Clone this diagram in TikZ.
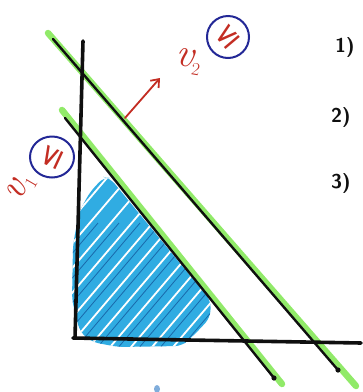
\documentclass[tikz,border=0pt]{standalone}
\usetikzlibrary{arrows.meta,shapes.geometric}
\usepackage{fontspec}
\newfontfamily\symfont{DejaVu Sans}
\definecolor{hlgreen}{RGB}{145,234,105}
\definecolor{pen}{RGB}{15,15,15}
\definecolor{redpen}{RGB}{195,45,35}
\definecolor{bluepen}{RGB}{35,40,150}
\definecolor{hatchblue}{RGB}{48,172,226}
\definecolor{hatchdark}{RGB}{25,105,170}
\tikzset{
  axis/.style={pen, line width=3.6pt, line cap=round},
  highlight/.style={hlgreen, line width=6.5pt, line cap=round},
  penline/.style={pen, line width=2.4pt, line cap=round},
  arrowpen/.style={redpen, line width=1.8pt, line cap=round, -{Straight Barb[length=7pt,width=11pt,line width=1.8pt]}},
  ring/.style={bluepen, line width=2pt},
  redlabel/.style={redpen, inner sep=0pt, font=\itshape\fontsize{40}{40}\selectfont},
  lesign/.style={redpen, inner sep=0pt, font=\symfont\fontsize{30}{30}\selectfont},
  numlabel/.style={pen, inner sep=0pt, font=\sffamily\bfseries\fontsize{20}{20}\selectfont}
}
\newcommand{\subnum}[1]{\raisebox{-7pt}{\upshape\fontsize{18}{18}\selectfont #1}}
\begin{document}
\begin{tikzpicture}[x=1pt,y=-1pt]
\useasboundingbox (0,0) rectangle (363,392);
% named points
\coordinate (vt) at (83,41);
\coordinate (vb) at (75,338);
\coordinate (hl) at (73,338);
\coordinate (hr) at (361,343);
\coordinate (g2a) at (48,33);
\coordinate (g2b) at (356,386);
\coordinate (b2a) at (53,39);
\coordinate (b2b) at (338,370);
\coordinate (g1a) at (62,110);
\coordinate (g1b) at (282,384);
\coordinate (b1a) at (65,118);
\coordinate (b1b) at (274,378);
\coordinate (ra) at (125,118);
\coordinate (rb) at (160,78);
% shaded region
\begin{scope}
\clip[rounded corners=7pt] (79,212) -- (90,192) -- (104,177) -- (110,178) -- (211,301) -- (210,318) -- (196,333) -- (182,346) -- (118,347) -- (92,342) -- (80,332) -- (72,300) -- (73,245) -- cycle;
\fill[hatchblue] (0,0) rectangle (363,392);
\foreach \k in {-8,...,8} {
  \draw[white, line width=1.8pt] ({40+21*\k},380) -- ++(200,-235);
  \draw[hatchdark, line width=0.8pt] ({52+21*\k},376) -- ++(130,-153);
}
\end{scope}
\fill[hatchblue!60!bluepen!60] (157,389) ellipse (3pt and 4pt);
% green highlighted lines
\draw[highlight] (g2a) -- (g2b);
\draw[highlight] (g1a) -- (g1b);
\draw[penline] (b2a) -- (b2b);
\draw[penline] (b1a) -- (b1b);
\fill[pen] (b2b) circle (2.6pt);
\fill[pen] (b1b) circle (2.6pt);
% axes
\draw[axis] (vt) -- (vb);
\draw[axis] (hl) -- (hr);
% red arrow
\draw[arrowpen] (ra) -- (rb);
% labels
\node[redlabel, rotate=-10] (v2) at (188,62) {v\subnum{2}};
\node[ring, draw, circle, minimum size=42pt, inner sep=0pt] (c2) at (228,37) {};
\node[lesign, rotate=40] (le2) at (c2) {≤};
\node[redlabel, rotate=60] (v1) at (21,188) {v\subnum{1}};
\node[ring, draw, ellipse, minimum width=44pt, minimum height=41pt, inner sep=0pt] (c1) at (52,157) {};
\node[lesign, rotate=65] (le1) at (c1) {≤};
\node[numlabel] (n1) at (345,47) {1)};
\node[numlabel] (n2) at (341,117) {2)};
\node[numlabel] (n3) at (341,183) {3)};
\end{tikzpicture}
\end{document}
